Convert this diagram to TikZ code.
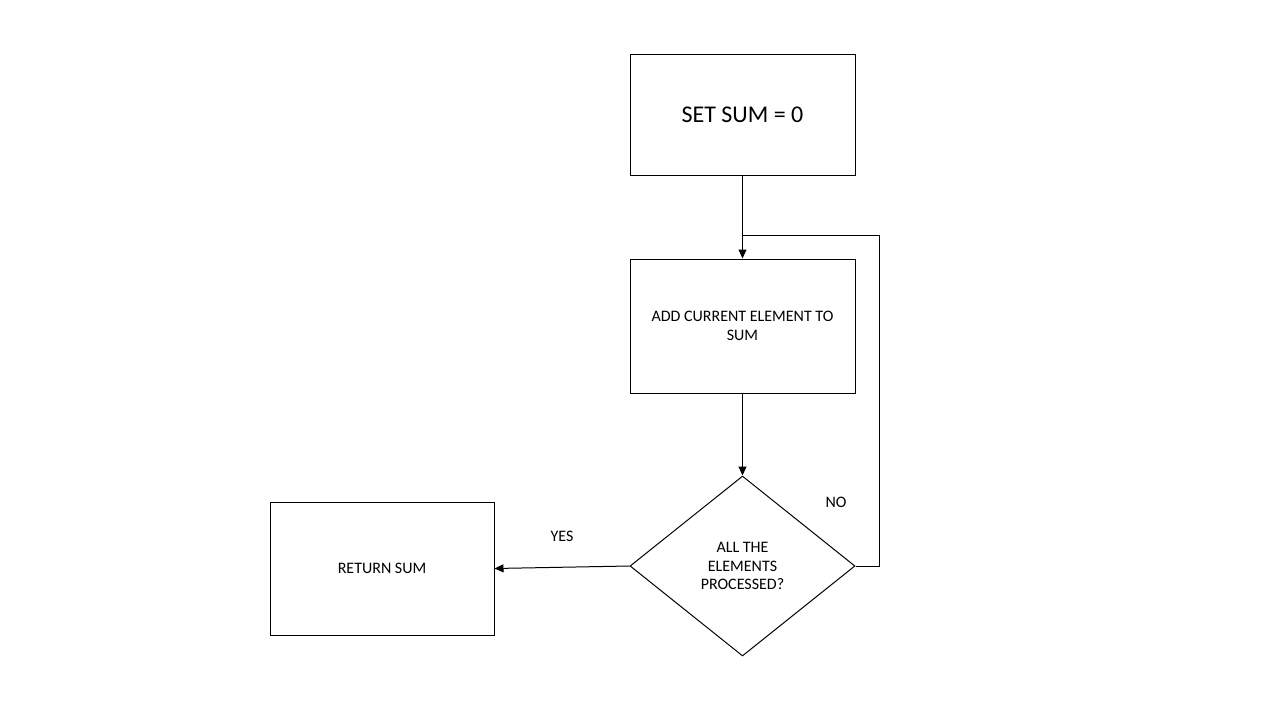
\documentclass[tikz,border=0pt]{standalone}
\usepackage{fontspec}
\setmainfont{Carlito}
\usetikzlibrary{shapes.geometric,arrows.meta}
\begin{document}
\begin{tikzpicture}[x=1pt,y=-1pt,
  box/.style={draw=black,line width=1pt,minimum width=225pt,inner sep=0pt,align=center,font=\fontsize{16}{19}\selectfont},
  dec/.style={draw=black,line width=1pt,diamond,minimum width=225pt,minimum height=180pt,inner sep=0pt,align=center,font=\fontsize{16}{18.5}\selectfont},
  conn/.style={line width=1pt,-{Triangle[length=9pt,width=8pt]}},
  lbl/.style={font=\fontsize{16}{19}\selectfont}]
\useasboundingbox[fill=white] (0,0) rectangle (1280,720);
\node[box,minimum height=121pt,font=\fontsize{24}{28}\selectfont] (b1) at (742.5,114.5) {SET SUM = 0};
\node[box,minimum height=134pt] (b2) at (742.5,326) {ADD CURRENT ELEMENT TO\\SUM};
\node[dec] (d) at (742.5,566) {ALL THE\\ELEMENTS\\PROCESSED?};
\node[box,minimum width=224pt,minimum height=133pt] (b3) at (382,568.5) {RETURN SUM};
\coordinate (j) at (742.5,235);
\draw[conn] (b1) -- (b2);
\draw[conn] (b2) -- (d);
\draw[line width=1pt] (d.east) -- ++(24,0) |- (j);
\draw[conn] (d.west) -- (b3.east);
\node[lbl] (yes) at (562,536) {YES};
\node[lbl] (no) at (836,502) {NO};
\end{tikzpicture}
\end{document}
